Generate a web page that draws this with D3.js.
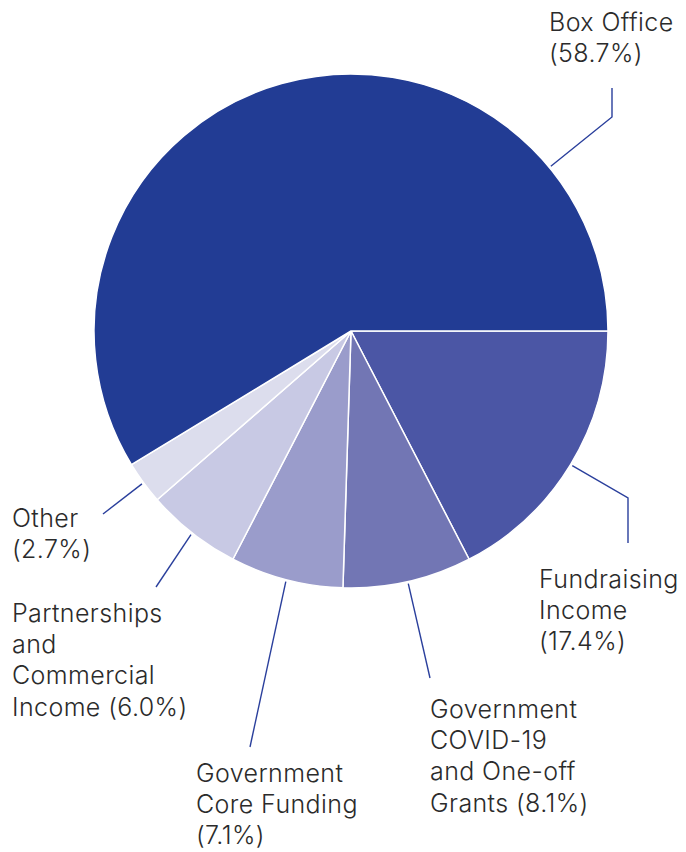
<!DOCTYPE html>
<html>
<head>
<meta charset="utf-8">
<script src="https://cdn.jsdelivr.net/npm/d3@7"></script>
<style>
  body { margin: 0; background: #fff; }
  text { font-family: Inter, Roboto, "Noto Sans", sans-serif; font-weight: 300; fill: #2b2b2b; }
</style>
</head>
<body>
<svg id="chart"></svg>
<script>
// === Data ===
const categories = ["Fundraising Income", "Government COVID-19 and One-off Grants", "Government Core Funding",
  "Partnerships and Commercial Income", "Other", "Box Office"];
const shares = [17.4, 8.1, 7.1, 6.0, 2.7, 58.7];
const labelLines = [
  ["Fundraising", "Income", "(17.4%)"],
  ["Government", "COVID-19", "and One-off", "Grants (8.1%)"],
  ["Government", "Core Funding", "(7.1%)"],
  ["Partnerships", "and", "Commercial", "Income (6.0%)"],
  ["Other", "(2.7%)"],
  ["Box Office", "(58.7%)"]
];

// layout of the callouts (label anchor, leader elbow / end points)
const colors = ["#4b56a5", "#7276b4", "#9a9ccb", "#c8c9e4", "#dcdded", "#223c94"];
const labelPos = [
  { x: 539, y: 588, pts: [[628, 498], [628, 543]] },
  { x: 430, y: 718, pts: [[430, 678]] },
  { x: 196, y: 782, pts: [[250, 747]] },
  { x: 12, y: 622, pts: [[156, 587]] },
  { x: 12, y: 527, pts: [[103, 514]] },
  { x: 549, y: 31, pts: [[612, 117], [612, 88]], angle: 50.5 * Math.PI / 180 }
];

const W = 686, H = 852;
const cx = 351, cy = 331, radius = 257;
const lineH = 31.2;

const svg = d3.select("#chart").attr("width", W).attr("height", H);
const g = svg.append("g").attr("transform", `translate(${cx},${cy})`);

const data = categories.map((c, i) => ({ name: c, value: shares[i], i }));

const pie = d3.pie().value(d => d.value).sort(null)
  .startAngle(Math.PI / 2).endAngle(Math.PI / 2 + 2 * Math.PI);
const arcs = pie(data);
const arc = d3.arc().innerRadius(0).outerRadius(radius);

g.selectAll("path.slice").data(arcs).enter().append("path")
  .attr("class", "slice")
  .attr("d", arc)
  .attr("fill", d => colors[d.data.i])
  .attr("stroke", "#fff")
  .attr("stroke-width", 1.5)
  .attr("stroke-linejoin", "round");

// leaders
arcs.forEach(d => {
  const lp = labelPos[d.data.i];
  const a = lp.angle !== undefined ? lp.angle : (d.startAngle + d.endAngle) / 2;
  const r0 = radius + 2;
  const start = [cx + Math.sin(a) * r0, cy - Math.cos(a) * r0];
  svg.append("path")
    .attr("d", d3.line()([start, ...lp.pts]))
    .attr("fill", "none")
    .attr("stroke", "#2a3f9c")
    .attr("stroke-width", 1.4);

  const t = svg.append("text").attr("x", lp.x).attr("y", lp.y)
    .style("font-size", "25px").style("letter-spacing", "0.4px");
  labelLines[d.data.i].forEach((s, k) => {
    t.append("tspan").attr("x", lp.x).attr("y", lp.y + k * lineH).text(s);
  });
});
</script>
</body>
</html>
